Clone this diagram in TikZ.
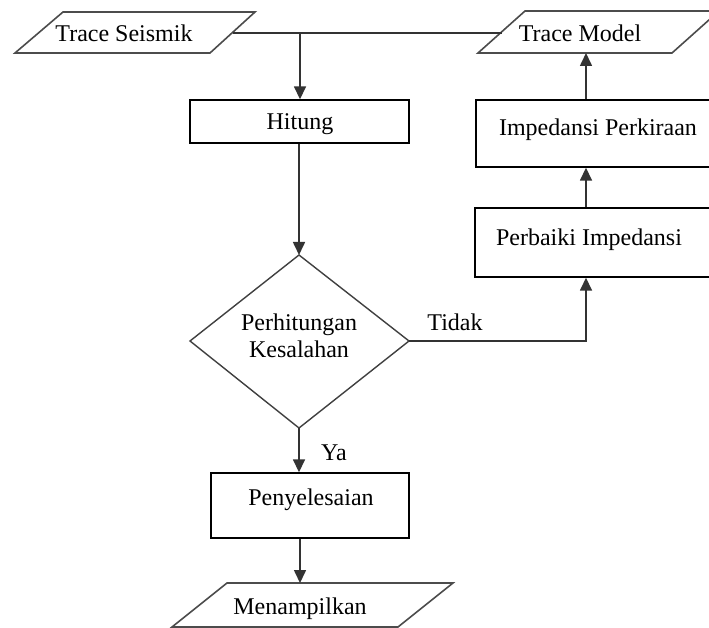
\documentclass[tikz,border=0pt]{standalone}
\usepackage{fontspec}
\setmainfont{Liberation Serif}
\usetikzlibrary{arrows.meta}
\begin{document}
\begin{tikzpicture}[x=1pt,y=-1pt,
  every node/.append style={font=\fontsize{24}{28}\selectfont},
  txt/.style={inner sep=0pt},
  boxst/.style={draw=black,line width=1.4pt,rectangle,inner sep=0pt},
  io/.style={draw=black!70,line width=1.6pt,line join=miter},
  dec/.style={draw=black!75,line width=1.4pt},
  conn/.style={draw=black!80,line width=1.6pt},
  arr/.style={conn,-{Triangle[width=12pt,length=13pt]}}]
\useasboundingbox[fill=white] (0,0) rectangle (709,628);

% Trace Seismik
\draw[io] (63,12) -- (255,12) -- (210,53) -- (15,53) -- cycle;
\node[txt] (ts) at (124,33) {Trace Seismik};
\coordinate (tsR) at (232.5,33);
\coordinate (jn) at (300,33);

% Trace Model
\draw[io] (525,11) -- (719,11) -- (672,53) -- (478,53) -- cycle;
\node[txt] (tm) at (580,33) {Trace Model};
\coordinate (tmL) at (501.5,33);
\coordinate (tmB) at (586,53);

% Hitung
\node[boxst,minimum width=219pt,minimum height=43pt] (hit) at (299.5,121.5) {};
\node[txt] (hitT) at (300,124) {Hitung};

% Decision
\coordinate (dT) at (299,255);
\coordinate (dL) at (190,341);
\coordinate (dR) at (409,341);
\coordinate (dB) at (299,428);
\draw[dec] (dT) -- (dR) -- (dB) -- (dL) -- cycle;
\node[txt,align=center] (decT) at (299,336) {Perhitungan\\[-1pt]Kesalahan};

% Penyelesaian
\node[boxst,minimum width=198pt,minimum height=65pt] (pen) at (310,505.5) {};
\node[txt] (penT) at (311,500) {Penyelesaian};

% Menampilkan
\draw[io] (227,583) -- (453,583) -- (398,627) -- (172,627) -- cycle;
\node[txt] (men) at (300,609) {Menampilkan};
\coordinate (menT) at (300,583);

% Impedansi Perkiraan
\node[boxst,minimum width=245pt,minimum height=67pt] (imp) at (598.5,133.5) {};
\node[txt] (impT) at (598,130) {Impedansi Perkiraan};

% Perbaiki Impedansi
\node[boxst,minimum width=245pt,minimum height=69pt] (per) at (597.5,242.5) {};
\node[txt] (perT) at (589,240) {Perbaiki Impedansi};
\coordinate (corner) at (586,341);

% connectors
\draw[conn] (tsR) -- (tmL);
\draw[arr] (jn) -- (hit.north -| jn);
\draw[arr] (hit.south -| dT) -- (dT);
\draw[arr] (dB) -- (pen.north -| dB);
\node[txt] (ya) at (334,453) {Ya};
\draw[arr] (pen.south -| menT) -- (menT);
\draw[arr] (dR) -- (corner) -- (per.south -| corner);
\node[txt] (tidak) at (455,322) {Tidak};
\draw[arr] (per.north -| corner) -- (imp.south -| corner);
\draw[arr] (imp.north -| tmB) -- (tmB);
\end{tikzpicture}
\end{document}
